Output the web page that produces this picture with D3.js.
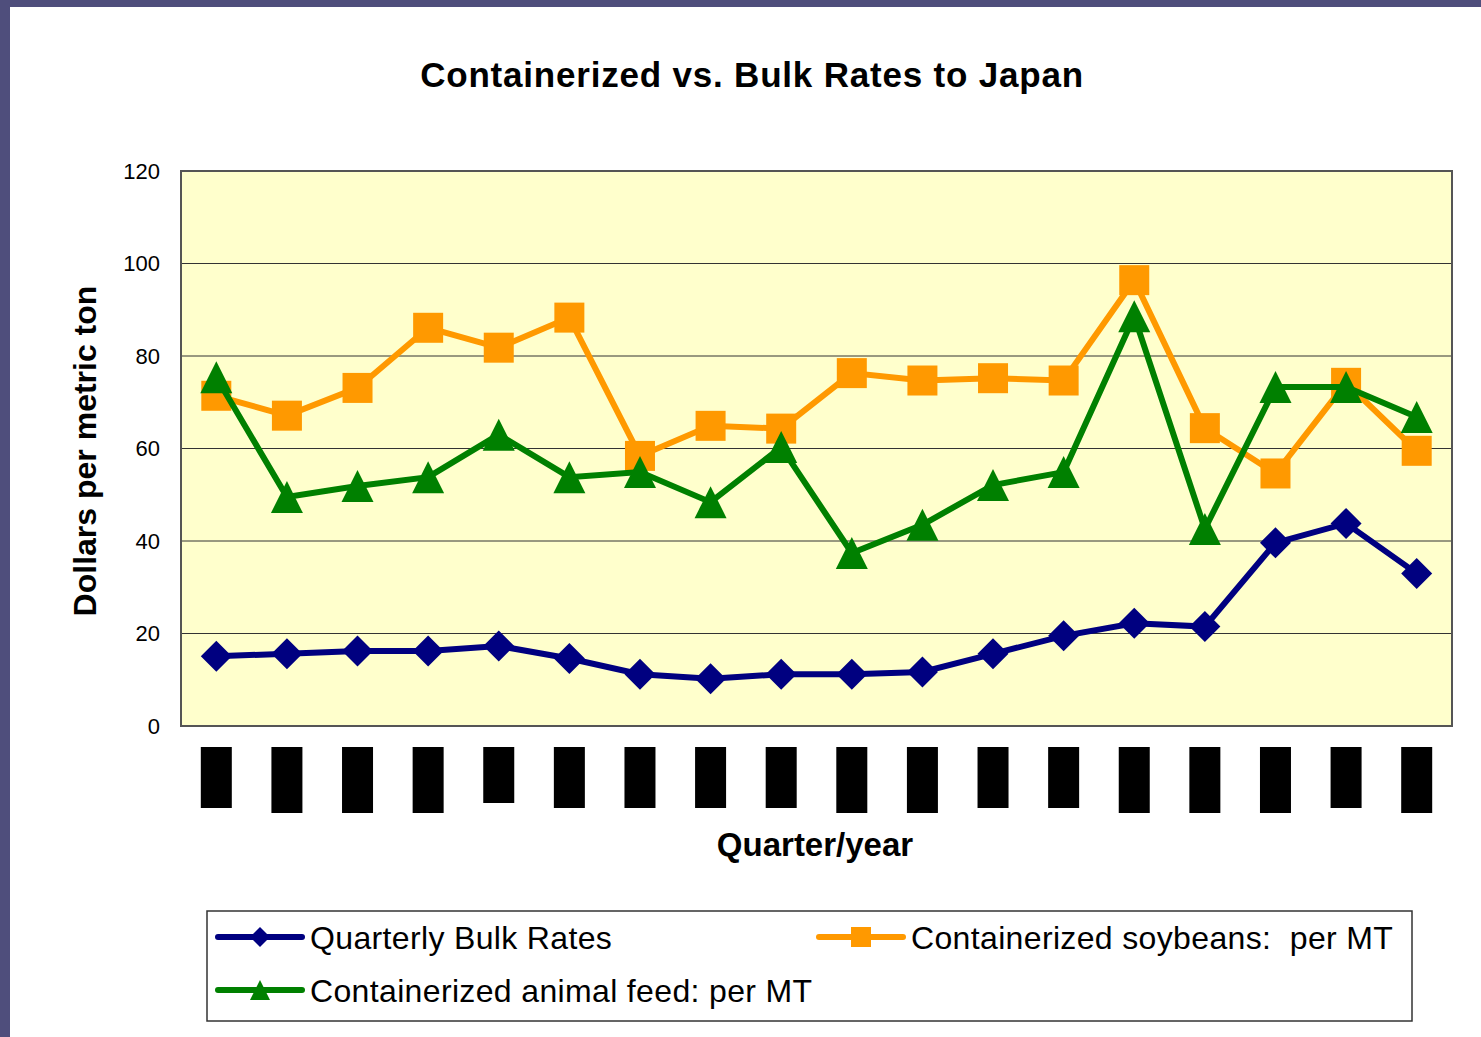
<!DOCTYPE html>
<html>
<head>
<meta charset="utf-8">
<script src="https://cdn.jsdelivr.net/npm/d3@7"></script>
<style>
body{margin:0;background:#4f4e7c;}
text{font-family:"Liberation Sans",Arial,sans-serif;}
</style>
</head>
<body>
<div id="chart"></div>
<script>
// 18 quarters, the labels in the source are blacked out
var quarters=["q1","q2","q3","q4","q5","q6","q7","q8","q9","q10","q11","q12","q13","q14","q15","q16","q17","q18"];
var maskLen=[61,66,66,66,56,61,61,61,61,66,66,61,61,66,66,66,61,66];

var bulk=[15.1,15.6,16.2,16.2,17.3,14.6,11.2,10.2,11.2,11.2,11.7,15.6,19.5,22.2,21.5,39.6,43.8,33.0];
var soybeans=[71.4,67.1,73.1,86.1,81.8,88.3,58.4,64.9,64.3,76.3,74.7,75.2,74.7,96.4,64.4,54.6,74.2,59.5];
var feed=[75.4,49.5,51.9,53.8,63.0,53.8,54.9,48.4,60.3,37.4,43.5,52.1,54.9,88.6,42.6,73.3,73.3,66.8];

var yTicks=[0,20,40,60,80,100,120];

var w=1481,h=1037;
var svg=d3.select("#chart").append("svg")
  .attr("width",w)
  .attr("height",h)
  .style("display","block");

// slide background + white panel
svg.append("rect").attr("width",w).attr("height",h).attr("fill","#4f4e7c");
svg.append("rect").attr("x",10).attr("y",7).attr("width",w-10).attr("height",h-7).attr("fill","#fff");

var pL=181,pR=1452,pT=171,pB=726;
var x=d3.scaleBand().domain(quarters).range([pL,pR]);
var y=d3.scaleLinear().domain([0,120]).range([pB,pT]);
var cx=function(i){return x(quarters[i])+x.bandwidth()/2;};

svg.append("rect")
  .attr("x",pL).attr("y",pT)
  .attr("width",pR-pL).attr("height",pB-pT)
  .attr("fill","#ffffcc");

svg.selectAll("line.grid")
  .data(yTicks.filter(function(d){return d>0&&d<120;}))
  .enter().append("line")
  .attr("class","grid")
  .attr("x1",pL).attr("x2",pR)
  .attr("y1",function(d){return y(d);})
  .attr("y2",function(d){return y(d);})
  .attr("stroke","#333")
  .attr("stroke-width",1);

svg.append("rect")
  .attr("x",pL).attr("y",pT)
  .attr("width",pR-pL).attr("height",pB-pT)
  .attr("fill","none")
  .attr("stroke","#555")
  .attr("stroke-width",2);

svg.selectAll("text.ytick")
  .data(yTicks)
  .enter().append("text")
  .attr("class","ytick")
  .attr("x",160)
  .attr("y",function(d){return y(d);})
  .attr("dy","0.36em")
  .attr("text-anchor","end")
  .attr("font-size",22)
  .text(function(d){return d;});

// redacted category labels
svg.selectAll("rect.mask")
  .data(quarters)
  .enter().append("rect")
  .attr("class","mask")
  .attr("x",function(d){return x(d)+x.bandwidth()/2-15.5;})
  .attr("y",747)
  .attr("width",31)
  .attr("height",function(d,i){return maskLen[i];})
  .attr("fill","#000");

svg.append("text")
  .attr("x",752).attr("y",87)
  .attr("text-anchor","middle")
  .attr("font-size",35)
  .attr("font-weight","bold")
  .attr("letter-spacing",0.8)
  .text("Containerized vs. Bulk Rates to Japan");

svg.append("text")
  .attr("transform","translate(96,451) rotate(-90)")
  .attr("text-anchor","middle")
  .attr("font-size",32)
  .attr("font-weight","bold")
  .text("Dollars per metric ton");

svg.append("text")
  .attr("x",815).attr("y",856)
  .attr("text-anchor","middle")
  .attr("font-size",33)
  .attr("font-weight","bold")
  .text("Quarter/year");

var series=[
  {name:"Quarterly Bulk Rates",values:bulk,color:"#000080",shape:"diamond"},
  {name:"Containerized soybeans:  per MT",values:soybeans,color:"#ff9900",shape:"square"},
  {name:"Containerized animal feed: per MT",values:feed,color:"#008000",shape:"triangle"}
];

function marker(g,shape,color,s){
  if(shape=="diamond"){
    g.append("path").attr("d","M0,"+(-s/2)+"L"+(s/2)+",0L0,"+(s/2)+"L"+(-s/2)+",0Z").attr("fill",color);
  }else if(shape=="square"){
    g.append("rect").attr("x",-s/2).attr("y",-s/2).attr("width",s).attr("height",s).attr("fill",color);
  }else{
    g.append("path").attr("d","M0,"+(-s/2)+"L"+(s/2)+","+(s/2)+"L"+(-s/2)+","+(s/2)+"Z").attr("fill",color);
  }
}

var line=d3.line()
  .x(function(d,i){return cx(i);})
  .y(function(d){return y(d);});

var sizes={diamond:31,square:30,triangle:32};
series.forEach(function(s){
  svg.append("path")
    .attr("d",line(s.values))
    .attr("fill","none")
    .attr("stroke",s.color)
    .attr("stroke-width",6)
    .attr("stroke-linejoin","miter");
  s.values.forEach(function(v,i){
    var g=svg.append("g").attr("transform","translate("+cx(i)+","+y(v)+")");
    marker(g,s.shape,s.color,sizes[s.shape]);
  });
});

// legend
svg.append("rect")
  .attr("x",207).attr("y",911)
  .attr("width",1205).attr("height",110)
  .attr("fill","#fff")
  .attr("stroke","#333")
  .attr("stroke-width",1.5);

var legPos=[[218,937],[819,937],[218,990]];
series.forEach(function(s,i){
  var lx=legPos[i][0],ly=legPos[i][1];
  svg.append("line")
    .attr("x1",lx).attr("x2",lx+84)
    .attr("y1",ly).attr("y2",ly)
    .attr("stroke",s.color)
    .attr("stroke-width",6)
    .attr("stroke-linecap","round");
  var g=svg.append("g").attr("transform","translate("+(lx+42)+","+ly+")");
  marker(g,s.shape,s.color,20);
  svg.append("text")
    .attr("x",lx+92).attr("y",ly)
    .attr("dy","0.36em")
    .attr("font-size",32)
    .attr("letter-spacing",0.35)
    .style("white-space","pre")
    .text(s.name);
});
</script>
</body>
</html>
